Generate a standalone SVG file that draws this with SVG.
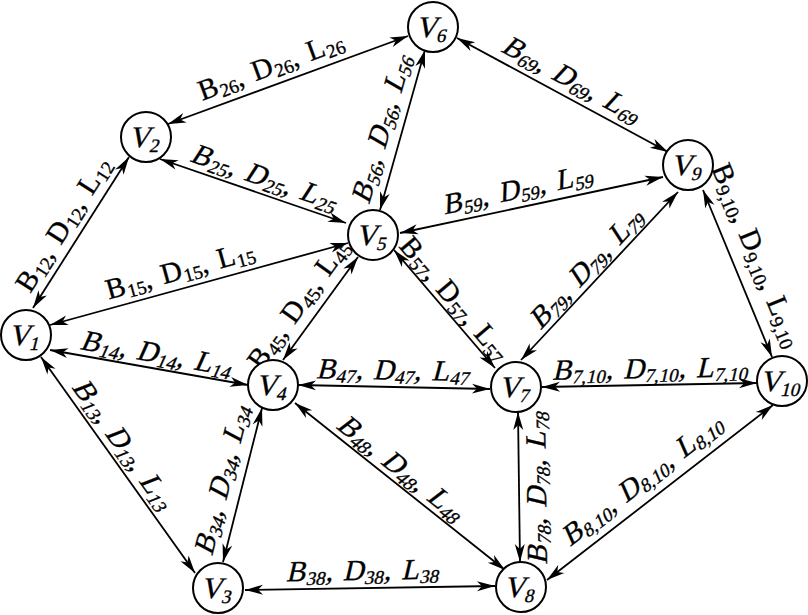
<svg xmlns="http://www.w3.org/2000/svg" width="808" height="615" viewBox="0 0 808 615">
<defs>
<style>
.n circle{fill:#fff;stroke:#000;stroke-width:2}
.e line{stroke:#000;stroke-width:1.8;fill:none;marker-start:url(#a);marker-end:url(#a)}
text{font-family:"Liberation Serif","Times New Roman",serif;fill:#000;stroke:#000;stroke-width:0.35}
.v{font-size:30px;text-anchor:middle}
.lb{font-size:29px;text-anchor:middle}
tspan.s{font-size:19px}
</style>
<marker id="a" markerUnits="userSpaceOnUse" markerWidth="20" markerHeight="12" viewBox="-19 -6 20 12" refX="0" refY="0" orient="auto-start-reverse">
<path d="M0,0 L-18,-5 L-13,0 L-18,5 Z" fill="#000"/>
</marker>
</defs>
<rect width="808" height="615" fill="#fff"/>
<g id="connectors" class="e">
<line x1="33" y1="308" x2="129" y2="157"/>
<line x1="50" y1="325" x2="348" y2="243"/>
<line x1="50" y1="350" x2="248" y2="385"/>
<line x1="41" y1="357" x2="195" y2="573"/>
<line x1="168" y1="124" x2="408" y2="36"/>
<line x1="160" y1="159" x2="346" y2="223"/>
<line x1="380" y1="210" x2="425" y2="50"/>
<line x1="457" y1="38" x2="668" y2="152"/>
<line x1="400" y1="233" x2="663" y2="177"/>
<line x1="283" y1="360" x2="358" y2="257"/>
<line x1="394" y1="250" x2="495" y2="368"/>
<line x1="298" y1="385" x2="490" y2="389"/>
<line x1="521" y1="360" x2="678" y2="192"/>
<line x1="703" y1="190" x2="772" y2="357"/>
<line x1="542" y1="387" x2="757" y2="383"/>
<line x1="223" y1="562" x2="262" y2="408"/>
<line x1="295" y1="403" x2="505" y2="570"/>
<line x1="518" y1="412" x2="520" y2="562"/>
<line x1="245" y1="590" x2="495" y2="586"/>
<line x1="547" y1="580" x2="773" y2="405"/>
</g>
<g id="labels">
<text class="lb" transform="translate(71.2,229.3) rotate(-57.6)">B<tspan class="s" dx="1" dy="4">12</tspan><tspan dy="-4">, </tspan><tspan dx="3">D</tspan><tspan class="s" dx="1" dy="4">12</tspan><tspan dy="-4">, </tspan><tspan dx="3">L</tspan><tspan class="s" dx="1" dy="4">12</tspan></text>
<text class="lb" transform="translate(274,74.5) rotate(-20.1)">B<tspan class="s" dx="1" dy="4">26</tspan><tspan dy="-4">, </tspan><tspan dx="3">D</tspan><tspan class="s" dx="1" dy="4">26</tspan><tspan dy="-4">, </tspan><tspan dx="3">L</tspan><tspan class="s" dx="1" dy="4">26</tspan></text>
<text class="lb" transform="translate(261.4,186) rotate(19) skewX(-14)">B<tspan class="s" dx="1" dy="4">25</tspan><tspan dy="-4">, </tspan><tspan dx="3">D</tspan><tspan class="s" dx="1" dy="4">25</tspan><tspan dy="-4">, </tspan><tspan dx="3">L</tspan><tspan class="s" dx="1" dy="4">25</tspan></text>
<text class="lb" transform="translate(390.2,131.4) rotate(-74) skewX(-14)">B<tspan class="s" dx="1" dy="4">56</tspan><tspan dy="-4">, </tspan><tspan dx="3">D</tspan><tspan class="s" dx="1" dy="4">56</tspan><tspan dy="-4">, </tspan><tspan dx="3">L</tspan><tspan class="s" dx="1" dy="4">56</tspan></text>
<text class="lb" transform="translate(567.2,87.4) rotate(28.4) skewX(-14)">B<tspan class="s" dx="1" dy="4">69</tspan><tspan dy="-4">, </tspan><tspan dx="3">D</tspan><tspan class="s" dx="1" dy="4">69</tspan><tspan dy="-4">, </tspan><tspan dx="3">L</tspan><tspan class="s" dx="1" dy="4">69</tspan></text>
<text class="lb" transform="translate(519.1,198.5) rotate(-12) skewX(-14)">B<tspan class="s" dx="1" dy="4">59</tspan><tspan dy="-4">, </tspan><tspan dx="3">D</tspan><tspan class="s" dx="1" dy="4">59</tspan><tspan dy="-4">, </tspan><tspan dx="3">L</tspan><tspan class="s" dx="1" dy="4">59</tspan></text>
<text class="lb" transform="translate(182.6,279.1) rotate(-15.4)">B<tspan class="s" dx="1" dy="4">15</tspan><tspan dy="-4">, </tspan><tspan dx="3">D</tspan><tspan class="s" dx="1" dy="4">15</tspan><tspan dy="-4">, </tspan><tspan dx="3">L</tspan><tspan class="s" dx="1" dy="4">15</tspan></text>
<text class="lb" transform="translate(154.5,362.4) rotate(10) skewX(-14)">B<tspan class="s" dx="1" dy="4">14</tspan><tspan dy="-4">, </tspan><tspan dx="3">D</tspan><tspan class="s" dx="1" dy="4">14</tspan><tspan dy="-4">, </tspan><tspan dx="3">L</tspan><tspan class="s" dx="1" dy="4">14</tspan></text>
<text class="lb" transform="translate(115.7,449.5) rotate(54.5) skewX(-14)">B<tspan class="s" dx="1" dy="4">13</tspan><tspan dy="-4">, </tspan><tspan dx="3">D</tspan><tspan class="s" dx="1" dy="4">13</tspan><tspan dy="-4">, </tspan><tspan dx="3">L</tspan><tspan class="s" dx="1" dy="4">13</tspan></text>
<text class="lb" transform="translate(306.1,309.2) rotate(-54.2)">B<tspan class="s" dx="1" dy="4">45</tspan><tspan dy="-4">, </tspan><tspan dx="3">D</tspan><tspan class="s" dx="1" dy="4">45</tspan><tspan dy="-4">, </tspan><tspan dx="3">L</tspan><tspan class="s" dx="1" dy="4">45</tspan></text>
<text class="lb" transform="translate(447.5,304.7) rotate(49.6)">B<tspan class="s" dx="1" dy="4">57</tspan><tspan dy="-4">, </tspan><tspan dx="3">D</tspan><tspan class="s" dx="1" dy="4">57</tspan><tspan dy="-4">, </tspan><tspan dx="3">L</tspan><tspan class="s" dx="1" dy="4">57</tspan></text>
<text class="lb" transform="translate(392.5,379.5) rotate(1) skewX(-14)">B<tspan class="s" dx="1" dy="4">47</tspan><tspan dy="-4">, </tspan><tspan dx="3">D</tspan><tspan class="s" dx="1" dy="4">47</tspan><tspan dy="-4">, </tspan><tspan dx="3">L</tspan><tspan class="s" dx="1" dy="4">47</tspan></text>
<text class="lb" transform="translate(592.7,274.5) rotate(-47) skewX(-14)">B<tspan class="s" dx="1" dy="4">79</tspan><tspan dy="-4">, </tspan><tspan dx="3">D</tspan><tspan class="s" dx="1" dy="4">79</tspan><tspan dy="-4">, </tspan><tspan dx="3">L</tspan><tspan class="s" dx="1" dy="4">79</tspan></text>
<text class="lb" transform="translate(748.5,258.7) rotate(67.7)">B<tspan class="s" dx="1" dy="4">9,10</tspan><tspan dy="-4">, </tspan><tspan dx="3">D</tspan><tspan class="s" dx="1" dy="4">9,10</tspan><tspan dy="-4">, </tspan><tspan dx="3">L</tspan><tspan class="s" dx="1" dy="4">9,10</tspan></text>
<text class="lb" transform="translate(650,378) rotate(-1) skewX(-14)">B<tspan class="s" dx="1" dy="4">7,10</tspan><tspan dy="-4">, </tspan><tspan dx="3">D</tspan><tspan class="s" dx="1" dy="4">7,10</tspan><tspan dy="-4">, </tspan><tspan dx="3">L</tspan><tspan class="s" dx="1" dy="4">7,10</tspan></text>
<text class="lb" transform="translate(230.8,482.3) rotate(-75.8) skewX(-14)">B<tspan class="s" dx="1" dy="4">34</tspan><tspan dy="-4">, </tspan><tspan dx="3">D</tspan><tspan class="s" dx="1" dy="4">34</tspan><tspan dy="-4">, </tspan><tspan dx="3">L</tspan><tspan class="s" dx="1" dy="4">34</tspan></text>
<text class="lb" transform="translate(395.2,475.1) rotate(38.5) skewX(-14)">B<tspan class="s" dx="1" dy="4">48</tspan><tspan dy="-4">, </tspan><tspan dx="3">D</tspan><tspan class="s" dx="1" dy="4">48</tspan><tspan dy="-4">, </tspan><tspan dx="3">L</tspan><tspan class="s" dx="1" dy="4">48</tspan></text>
<text class="lb" transform="translate(546,488) rotate(-90.8) skewX(-14)">B<tspan class="s" dx="1" dy="4">78</tspan><tspan dy="-4">, </tspan><tspan dx="3">D</tspan><tspan class="s" dx="1" dy="4">78</tspan><tspan dy="-4">, </tspan><tspan dx="3">L</tspan><tspan class="s" dx="1" dy="4">78</tspan></text>
<text class="lb" transform="translate(362.5,580) rotate(-1) skewX(-14)">B<tspan class="s" dx="1" dy="4">38</tspan><tspan dy="-4">, </tspan><tspan dx="3">D</tspan><tspan class="s" dx="1" dy="4">38</tspan><tspan dy="-4">, </tspan><tspan dx="3">L</tspan><tspan class="s" dx="1" dy="4">38</tspan></text>
<text class="lb" transform="translate(647.2,487) rotate(-37.8) skewX(-14)">B<tspan class="s" dx="1" dy="4">8,10</tspan><tspan dy="-4">, </tspan><tspan dx="3">D</tspan><tspan class="s" dx="1" dy="4">8,10</tspan><tspan dy="-4">, </tspan><tspan dx="3">L</tspan><tspan class="s" dx="1" dy="4">8,10</tspan></text>
</g>
<g id="V1" class="n"><circle cx="26" cy="335" r="25"/><text class="v" transform="translate(24,345) skewX(-14)">V<tspan class="s" dy="5">1</tspan></text></g>
<g id="V2" class="n"><circle cx="146" cy="137" r="25"/><text class="v" transform="translate(144,147) skewX(-14)">V<tspan class="s" dy="5">2</tspan></text></g>
<g id="V3" class="n"><circle cx="218" cy="588" r="25"/><text class="v" transform="translate(216,598) skewX(-14)">V<tspan class="s" dy="5">3</tspan></text></g>
<g id="V4" class="n"><circle cx="273" cy="385" r="25"/><text class="v" transform="translate(271,395) skewX(-14)">V<tspan class="s" dy="5">4</tspan></text></g>
<g id="V5" class="n"><circle cx="373" cy="235" r="25"/><text class="v" transform="translate(371,245) skewX(-14)">V<tspan class="s" dy="5">5</tspan></text></g>
<g id="V6" class="n"><circle cx="433" cy="27" r="25"/><text class="v" transform="translate(431,37) skewX(-14)">V<tspan class="s" dy="5">6</tspan></text></g>
<g id="V7" class="n"><circle cx="516" cy="387" r="25"/><text class="v" transform="translate(514,397) skewX(-14)">V<tspan class="s" dy="5">7</tspan></text></g>
<g id="V8" class="n"><circle cx="521" cy="587" r="25"/><text class="v" transform="translate(519,597) skewX(-14)">V<tspan class="s" dy="5">8</tspan></text></g>
<g id="V9" class="n"><circle cx="688" cy="165" r="25"/><text class="v" transform="translate(686,175) skewX(-14)">V<tspan class="s" dy="5">9</tspan></text></g>
<g id="V10" class="n"><circle cx="782" cy="381" r="25"/><text class="v" transform="translate(780,391) skewX(-14)">V<tspan class="s" dy="5">10</tspan></text></g>
</svg>
